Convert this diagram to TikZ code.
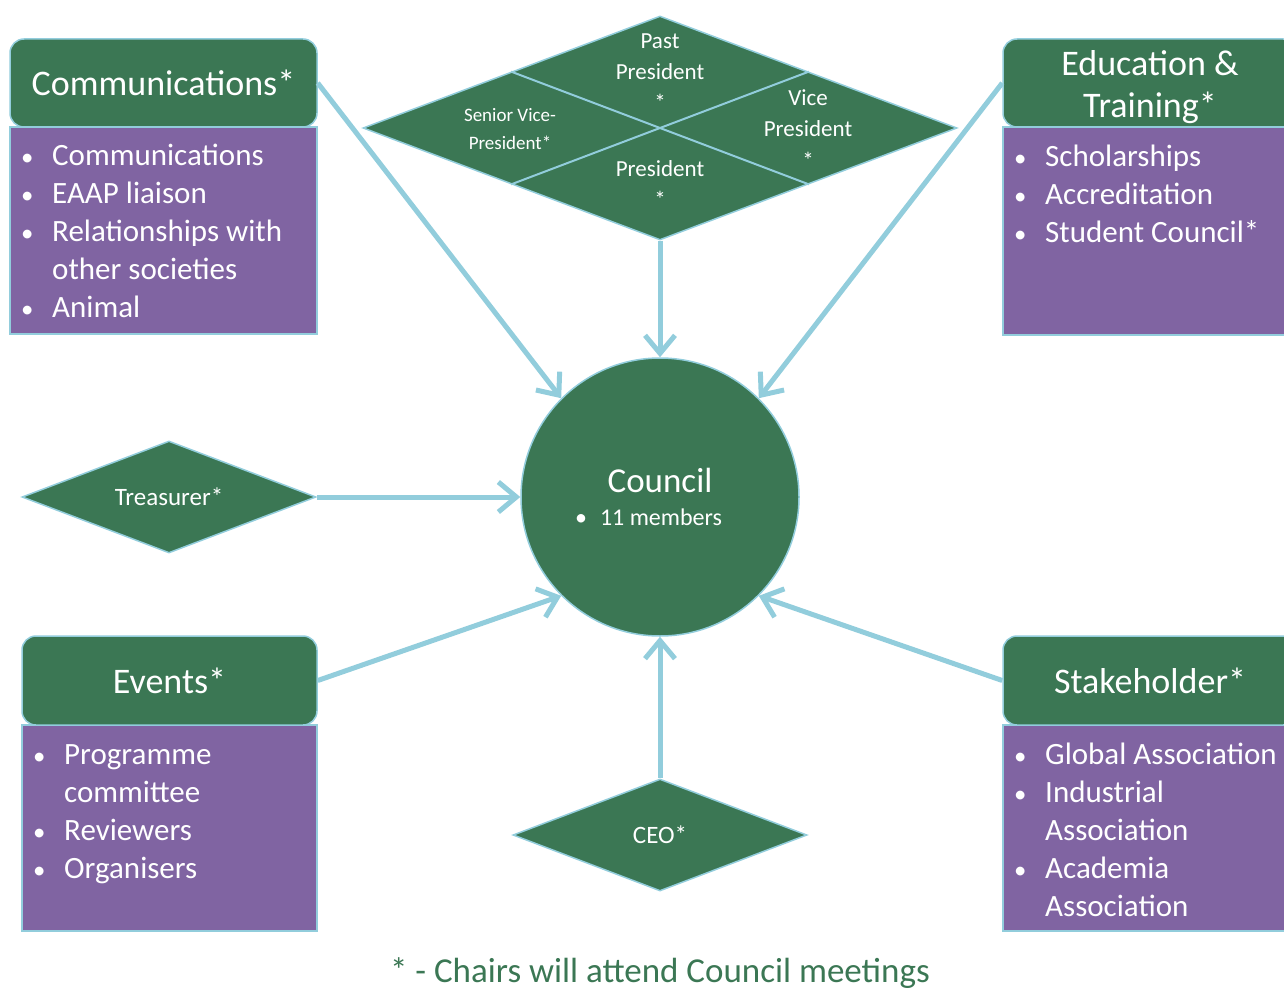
\documentclass[tikz,border=0pt]{standalone}
\usepackage{fontspec}
\setmainfont{Carlito}
\usetikzlibrary{shapes.geometric,arrows.meta}

\definecolor{hdgreen}{RGB}{59,119,84}
\definecolor{lspurple}{RGB}{128,100,162}
\definecolor{lnblue}{RGB}{146,205,220}

\newcommand{\fsz}[2]{\fontsize{#1}{#2}\selectfont}
\newcommand{\bul}{\makebox[31pt][l]{\scalebox{0.8}{\textbullet}}}

\tikzset{
  head/.style={draw=lnblue, line width=1.5, fill=hdgreen, rounded corners=14,
    text=white, font=\fsz{36}{42}, align=center, inner sep=0},
  listbox/.style={draw=lnblue, line width=1.5, fill=lspurple, inner sep=0},
  listtext/.style={text=white, font=\fsz{31}{38}, inner sep=0, anchor=base west},
  role/.style={diamond, aspect=2.625, draw=lnblue, line width=1.5, fill=hdgreen,
    text=white, font=\fsz{25}{30}, inner sep=0, minimum width=294, minimum height=112},
  roletext/.style={text=white, align=center, inner sep=0},
  link/.style={draw=lnblue, line width=5, -{Straight Barb[length=18pt,width=30pt]}}
}

\begin{document}
\begin{tikzpicture}[x=1pt,y=-1pt]
  \useasboundingbox (0,0) rectangle (1284,992);
  \clip (0,0) rectangle (1284,992);

  % committee boxes
  \node[listbox, minimum width=307, minimum height=207] (comms box) at (163.5,230.5) {};
  \node[head, minimum width=307, minimum height=88] (comms head) at (163.5,83) {Communications*};
  \node[listtext] (comms items) at (21,166) {\begin{tabular}[t]{@{}l@{}}
    \bul Communications\\ \bul EAAP liaison\\ \bul Relationships with\\
    \hspace*{31pt}other societies\\ \bul Animal\end{tabular}};

  \node[listbox, minimum width=294, minimum height=208] (edu box) at (1150,231) {};
  \node[head, minimum width=294, minimum height=88] (edu head) at (1150,83)
    {\rule{0pt}{33pt}Education \&\\Training*};
  \node[listtext] (edu items) at (1014,167) {\begin{tabular}[t]{@{}l@{}}
    \bul Scholarships\\ \bul Accreditation\\ \bul Student Council*\end{tabular}};

  \node[listbox, minimum width=295, minimum height=206] (events box) at (169.5,828) {};
  \node[head, minimum width=295, minimum height=89] (events head) at (169.5,680.5) {Events*};
  \node[listtext] (events items) at (33,764) {\begin{tabular}[t]{@{}l@{}}
    \bul Programme\\ \hspace*{31pt}committee\\ \bul Reviewers\\ \bul Organisers\end{tabular}};

  \node[listbox, minimum width=294, minimum height=206] (stake box) at (1150,828) {};
  \node[head, minimum width=294, minimum height=89] (stake head) at (1150,680.5) {Stakeholder*};
  \node[listtext] (stake items) at (1014,764) {\begin{tabular}[t]{@{}l@{}}
    \bul Global Association\\ \bul Industrial\\ \hspace*{31pt}Association\\
    \bul Academia\\ \hspace*{31pt}Association\end{tabular}};

  % officers
  \node[role, minimum width=594, minimum height=224] (board) at (660,128) {};
  \draw[lnblue, line width=2] (board.north west) -- (board.south east);
  \draw[lnblue, line width=2] (board.north east) -- (board.south west);
  \node[roletext, font=\fsz{23}{31}] (past) at (660,72) {Past\\President\\*};
  \node[roletext, font=\fsz{19}{28}] (svp) at (510,129.5) {Senior Vice-\\President*};
  \node[roletext, font=\fsz{23}{31.5}] (vp) at (808,129) {Vice\\President\\*};
  \node[roletext, font=\fsz{23}{31}] (pres) at (660,184) {President\\*};

  \node[role] (treasurer) at (169,497) {Treasurer*};
  \node[role] (ceo) at (660,835) {CEO*};

  \node[circle, draw=lnblue, line width=1.5, fill=hdgreen, minimum size=278, inner sep=0,
    text=white, align=center, font=\fsz{35}{33}] (council) at (660,497)
    {Council\\{\fsz{24}{28}\makebox[25pt][l]{\textbullet}11 members\hspace*{23pt}}};

  \node[text=hdgreen, font=\fsz{35}{40}, inner sep=0] (note) at (660,973)
    {* - Chairs will attend Council meetings};

  % links to council
  \draw[link] (comms head.east) -- (council.north west);
  \draw[link] (board.south) -- (council.north);
  \draw[link] (edu head.west) -- (council.north east);
  \draw[link] (treasurer.east) -- (council.west);
  \draw[link] (events head.east) -- (council.south west);
  \draw[link] (ceo.north) -- (council.south);
  \draw[link] (stake head.west) -- (council.south east);
\end{tikzpicture}
\end{document}
